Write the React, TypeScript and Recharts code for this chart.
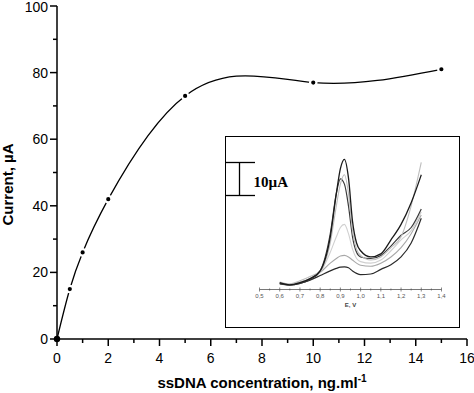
import React from 'react';
import { LineChart, Line, XAxis, YAxis } from 'recharts';

// calibration curve
const concentration = [0, 0.5, 1, 2, 5, 10, 15];
const currentUA = [0, 15, 26, 42, 73, 77, 81];
const xTicks = [0, 1, 2, 3, 4, 5, 6, 7, 8, 9, 10, 11, 12, 13, 14, 15, 16];
const yTicks = [0, 10, 20, 30, 40, 50, 60, 70, 80, 90, 100];

// inset voltammograms (current in µA above the inset axis)
const potential = [0.6, 0.65, 0.7, 0.75, 0.8, 0.85, 0.88, 0.9, 0.92, 0.94, 0.96, 0.98, 1.0, 1.05, 1.1, 1.15, 1.2, 1.25, 1.3];
const cv1 = [2.2, 1.5, 2.2, 3.5, 6, 17, 31, 39, 42, 36, 22, 15, 12.5, 10.5, 11.5, 16, 21, 28, 37];
const cv2 = [2.4, 1.8, 2.8, 4.2, 6, 15, 27, 34, 37, 31, 19, 13, 11, 9.5, 10.5, 13.5, 17, 27, 41];
const cv3 = [2.0, 1.5, 2.0, 3.2, 6, 18, 31, 35.7, 34, 27, 17, 12, 10.5, 10, 11, 14, 17.5, 20, 26];
const cv4 = [2.2, 1.6, 2.4, 3.5, 5.5, 12, 17, 20, 21, 18, 13, 10, 9, 8.5, 9.5, 12.5, 16, 19, 25];
const cv5 = [2.0, 1.6, 2.3, 3.5, 5.5, 8.5, 10, 10.8, 11, 10.5, 9.5, 8.5, 7.8, 7.5, 8.5, 10.5, 13.5, 18, 24];
const cv6 = [1.8, 1.5, 2.0, 3.0, 4.5, 6, 6.8, 7.2, 7.3, 7, 6, 5.2, 4.8, 5, 6.5, 8, 10.5, 15, 23];
const insetTicks = Array.from({ length: 19 }, (_, i) => +(0.5 + i * 0.05).toFixed(2));

const mainData = concentration.map((c, i) => ({ c, i: currentUA[i] }));
const cvData = potential.map((v, i) => ({ v, s1: cv1[i], s2: cv2[i], s3: cv3[i], s4: cv4[i], s5: cv5[i], s6: cv6[i] }));

const FONT = '"Liberation Sans", Arial, sans-serif';

// natural cubic spline in x (like Origin's spline connector)
const xSpline = (ctx: any) => {
  let xs: number[] = [];
  let ys: number[] = [];
  return {
    areaStart() {},
    areaEnd() {},
    lineStart() { xs = []; ys = []; },
    point(x: number, y: number) { xs.push(+x); ys.push(+y); },
    lineEnd() {
      const n = xs.length;
      if (!n) return;
      ctx.moveTo(xs[0], ys[0]);
      if (n < 3) {
        for (let k = 1; k < n; k++) ctx.lineTo(xs[k], ys[k]);
        return;
      }
      const h: number[] = [];
      for (let k = 0; k < n - 1; k++) h.push(xs[k + 1] - xs[k]);
      const M = new Array(n).fill(0);
      const a: number[] = [], b: number[] = [], c: number[] = [], r: number[] = [];
      for (let k = 1; k < n - 1; k++) {
        a.push(h[k - 1]);
        b.push(2 * (h[k - 1] + h[k]));
        c.push(h[k]);
        r.push(6 * ((ys[k + 1] - ys[k]) / h[k] - (ys[k] - ys[k - 1]) / h[k - 1]));
      }
      const m = b.length;
      for (let k = 1; k < m; k++) {
        const w = a[k] / b[k - 1];
        b[k] -= w * c[k - 1];
        r[k] -= w * r[k - 1];
      }
      const sol = new Array(m).fill(0);
      sol[m - 1] = r[m - 1] / b[m - 1];
      for (let k = m - 2; k >= 0; k--) sol[k] = (r[k] - c[k] * sol[k + 1]) / b[k];
      for (let k = 0; k < m; k++) M[k + 1] = sol[k];
      for (let k = 0; k < n - 1; k++) {
        const hk = h[k];
        const s = (ys[k + 1] - ys[k]) / hk;
        const d0 = s - (hk * (2 * M[k] + M[k + 1])) / 6;
        const d1 = s + (hk * (M[k] + 2 * M[k + 1])) / 6;
        ctx.bezierCurveTo(xs[k] + hk / 3, ys[k] + (d0 * hk) / 3, xs[k + 1] - hk / 3, ys[k + 1] - (d1 * hk) / 3, xs[k + 1], ys[k + 1]);
      }
    },
  };
};

const XTick = (props: any) => {
  const { x, y, payload } = props;
  const axisY = y - 9;
  const major = payload.value % 2 === 0;
  return (
    <g>
      <line x1={x} x2={x} y1={axisY} y2={axisY + (major ? 7 : 4)} stroke="#000" strokeWidth={1.5} />
      {major && (
        <text x={x} y={axisY + 24} textAnchor="middle" fontSize={14} fontFamily={FONT} fill="#000">
          {payload.value}
        </text>
      )}
    </g>
  );
};

const YTick = (props: any) => {
  const { x, y, payload } = props;
  const axisX = x + 9;
  const major = payload.value % 20 === 0;
  return (
    <g>
      <line x1={axisX} x2={axisX - (major ? 7 : 4)} y1={y} y2={y} stroke="#000" strokeWidth={1.5} />
      {major && (
        <text x={axisX - 9} y={y + (payload.value === 100 ? 6 : 5)} textAnchor="end" fontSize={14} fontFamily={FONT} fill="#000">
          {payload.value}
        </text>
      )}
    </g>
  );
};

const InsetTick = (props: any) => {
  const { x, y, payload, index } = props;
  const axisY = y - 4;
  const major = index % 2 === 0;
  return (
    <g>
      <line x1={x} x2={x} y1={axisY - (major ? 2 : 1)} y2={axisY + (major ? 2 : 1)} stroke="#555" strokeWidth={0.7} />
      {major && (
        <text x={x} y={axisY + 8.5} textAnchor="middle" fontSize={6} fontFamily={FONT} fill="#555">
          {payload.value.toFixed(1).replace('.', ',')}
        </text>
      )}
    </g>
  );
};

const MainDot = (props: any) => {
  const { cx, cy, index } = props;
  if (cx == null || cy == null) return null;
  return (
    <circle
      key={`d${index}`}
      cx={cx}
      cy={cy}
      r={3.2}
      fill="#000"
      stroke={index === 0 ? 'none' : '#fff'}
      strokeWidth={2.2}
    />
  );
};

export default function App() {
  return (
    <div style={{ position: 'absolute', left: 0, top: 0, width: 474, height: 393, background: '#fff' }}>
      <LineChart width={474} height={393} data={mainData} margin={{ top: 6, right: 7, bottom: 0, left: 0 }}>
        <XAxis
          dataKey="c"
          type="number"
          domain={[0, 16]}
          ticks={xTicks}
          interval={0}
          height={54}
          tickLine={false}
          tickSize={7}
          tickMargin={2}
          axisLine={{ stroke: '#000', strokeWidth: 1.5 }}
          tick={<XTick />}
          label={(p: any) => {
            const vb = p.viewBox;
            return (
              <text x={vb.x + vb.width / 2} y={vb.y + 49} textAnchor="middle" fontSize={15} fontWeight="bold" fontFamily={FONT} fill="#000">
                ssDNA concentration, ng.ml
                <tspan dy={-6} fontSize={10}>-1</tspan>
              </text>
            );
          }}
        />
        <YAxis
          type="number"
          domain={[0, 100]}
          ticks={yTicks}
          interval={0}
          width={57}
          tickLine={false}
          tickSize={7}
          tickMargin={2}
          axisLine={{ stroke: '#000', strokeWidth: 1.5 }}
          tick={<YTick />}
          label={(p: any) => {
            const vb = p.viewBox;
            const cy = vb.y + vb.height / 2 + 12;
            return (
              <text x={13} y={cy} transform={`rotate(-90, 13, ${cy})`} textAnchor="middle" fontSize={15} fontWeight="bold" fontFamily={FONT} fill="#000">
                Current, µA
              </text>
            );
          }}
        />
        <Line
          dataKey="i"
          type={xSpline as any}
          stroke="#000"
          strokeWidth={1.3}
          dot={<MainDot />}
          isAnimationActive={false}
        />
      </LineChart>

      <div
        style={{
          position: 'absolute',
          left: 225,
          top: 136,
          width: 235,
          height: 192,
          boxSizing: 'border-box',
          border: '1.5px solid #000',
          background: '#fff',
        }}
      >
        <LineChart width={232} height={189} data={cvData} margin={{ top: 13, right: 16.5, bottom: 0, left: 33.5 }}>
          <XAxis
            dataKey="v"
            type="number"
            domain={[0.5, 1.4]}
            ticks={insetTicks}
            interval={0}
            height={36.5}
            tickLine={false}
            tickSize={2}
            tickMargin={2}
            axisLine={{ stroke: '#555', strokeWidth: 0.8 }}
            tick={<InsetTick />}
            label={(p: any) => {
              const vb = p.viewBox;
              return (
                <text x={vb.x + vb.width / 2} y={vb.y + 17} textAnchor="middle" fontSize={6} fontWeight="bold" fontFamily={FONT} fill="#444">
                  E, V
                </text>
              );
            }}
          />
          <YAxis hide type="number" domain={[0, 45]} />
          <Line dataKey="s6" type="monotone" stroke="#2a2a2a" strokeWidth={1.2} dot={false} isAnimationActive={false} />
          <Line dataKey="s5" type="monotone" stroke="#a8a8a8" strokeWidth={1.1} dot={false} isAnimationActive={false} />
          <Line dataKey="s4" type="monotone" stroke="#d0d0d0" strokeWidth={1.1} dot={false} isAnimationActive={false} />
          <Line dataKey="s3" type="monotone" stroke="#3a3a3a" strokeWidth={1.2} dot={false} isAnimationActive={false} />
          <Line dataKey="s2" type="monotone" stroke="#bdbdbd" strokeWidth={1.1} dot={false} isAnimationActive={false} />
          <Line dataKey="s1" type="monotone" stroke="#1a1a1a" strokeWidth={1.3} dot={false} isAnimationActive={false} />
        </LineChart>
        <svg width={60} height={70} style={{ position: 'absolute', left: 0, top: 0, overflow: 'visible' }}>
          <line x1={0} x2={29} y1={25.5} y2={25.5} stroke="#000" strokeWidth={1.3} />
          <line x1={0} x2={29} y1={58.5} y2={58.5} stroke="#000" strokeWidth={1.3} />
          <line x1={13.5} x2={13.5} y1={25.5} y2={58.5} stroke="#000" strokeWidth={1.3} />
          <text x={27.5} y={49.5} fontSize={15} fontWeight="bold" fontFamily='"Liberation Serif", "Times New Roman", serif' fill="#000">
            10µA
          </text>
        </svg>
      </div>
    </div>
  );
}
